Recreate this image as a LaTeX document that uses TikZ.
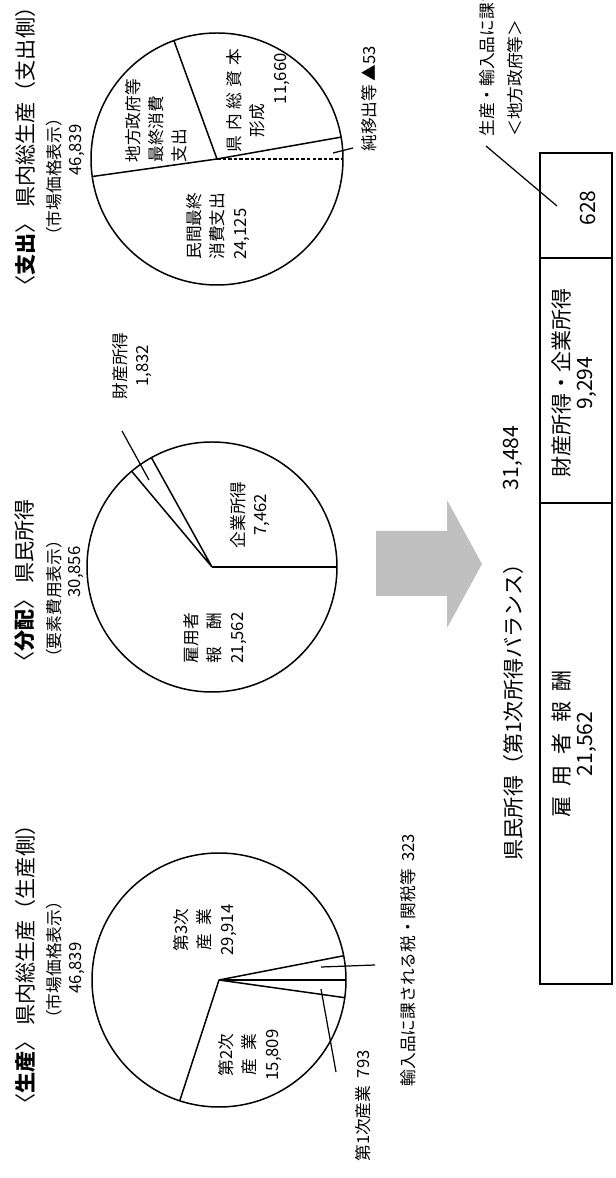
\documentclass[tikz,border=0pt]{standalone}
\usepackage{fontspec}
\setmainfont{Noto Sans CJK JP}
\definecolor{arrowgray}{RGB}{192,192,192}
\tikzset{
  every node/.style = {inner sep=0pt},
  heading/.style = {anchor=west, font=\fontsize{12}{14}\selectfont},
  subhead/.style = {font=\fontsize{9.5}{11}\selectfont},
  pietext/.style = {align=center, font=\fontsize{9.5}{13}\selectfont},
  note/.style = {font=\fontsize{9.5}{16}\selectfont},
  boxtext/.style = {align=center, font=\fontsize{12}{13}\selectfont},
  rim/.style = {line width=0.85pt},
  thickcut/.style = {line width=1.6pt},
  leader/.style = {line width=0.7pt},
}

\begin{document}
\begin{tikzpicture}[x=0.02cm, y=0.02cm]
  \useasboundingbox (0,0) rectangle (616,1178);
  % laid out landscape, then turned a quarter turn
  \begin{scope}[rotate=90, transform shape]
    % production side
    \coordinate (c1) at (198,-219);
    \draw[rim] (c1) circle[radius=127];
    \draw[rim] (c1) -- ++(162:127) (c1) -- ++(-79:127) (c1) -- ++(-98:127);
    \draw[thickcut] (c1) -- ++(-90:127);
    \node[heading] (t1) at (63,-25) {〈\textbf{生産}〉 県内総生産（生産側）};
    \node[subhead] (s1) at (218,-54) {（市場価格表示）};
    \node[subhead] (v1) at (210,-77) {46,839};
    \node[pietext] (tert) at (248,-205) {第3次\\産\hspace{0.5em}業\\29,914};
    \node[pietext] (sec) at (123,-250) {第2次\\産\hspace{0.5em}業\\15,809};
    \node[note] (prim) at (72,-363) {第1次産業\ \ 793};
    \node[note] (tax) at (218,-408) {輸入品に課される税・関税等\ \ 323};
    \coordinate (prim-a) at (189,-321);
    \coordinate (prim-b) at (106,-336);
    \coordinate (tax-a) at (211,-321);
    \coordinate (tax-b) at (213,-375);
    \draw[leader] (prim-a) -- (prim-b) (tax-a) -- (tax-b);

    % distribution
    \coordinate (c2) at (611,-212);
    \draw[rim] (c2) circle[radius=125];
    \draw[rim] (c2) -- ++(40:125) (c2) -- ++(29:125);
    \draw[thickcut] (c2) -- ++(-90:125);
    \node[heading] (t2) at (505,-25) {〈\textbf{分配}〉 県民所得};
    \node[subhead] (s2) at (579,-54) {（要素費用表示）};
    \node[subhead] (v2) at (606,-76) {30,856};
    \node[pietext] (comp) at (540,-215) {雇用者\\報\hspace{1em}酬\\21,562};
    \node[pietext] (ent) at (663,-250) {企業所得\\7,462};
    \node[pietext] (prop) at (812,-132) {財産所得\\1,832};
    \coordinate (prop-a) at (698,-149);
    \coordinate (prop-b) at (747,-122);
    \draw[leader] (prop-a) -- (prop-b);

    % expenditure side
    \coordinate (c3) at (1019,-217);
    \draw[rim] (c3) circle[radius=126];
    \draw[rim] (c3) -- ++(98:126) (c3) -- ++(20:126) (c3) -- ++(-80:126);
    \draw[rim, dash pattern=on 2pt off 1.2pt] (c3) -- ++(-90:126);
    \node[heading] (t3) at (881,-25) {〈\textbf{支出}〉 県内総生産（支出側）};
    \node[subhead] (s3) at (1001,-54) {（市場価格表示）};
    \node[subhead] (v3) at (1028,-77) {46,839};
    \node[pietext, anchor=west, align=left] (pcon) at (918,-218) {民間最終\\消費支出\\24,125};
    \node[pietext, anchor=west, align=left] (gcon) at (1015,-156) {地方政府等\\最終消費\\支出};
    \node[pietext, anchor=west, align=left] (gcf) at (1025,-258)
      {県\hspace{.3em}内\hspace{.3em}総\hspace{.3em}資\hspace{.3em}本\\\hspace*{.9em}形成\\\hspace*{2.9em}11,660};
    \node[note, anchor=west] (nx) at (1026,-369) {純移出等 ▲53};
    \coordinate (nx-a) at (1025,-333);
    \coordinate (nx-b) at (1030,-353);
    \draw[leader] (nx-a) -- (nx-b);

    % arrow and primary income balance
    \fill[arrowgray] (582,-376) -- (647,-376) -- (647,-447) -- (678,-447)
      -- (614,-482) -- (550,-447) -- (582,-447) -- cycle;
    \node[boxtext] (ni) at (471,-513) {県民所得（第1次所得バランス）};
    \node[boxtext] (niv) at (720,-513) {31,484};
    \draw[rim] (194,-540) rectangle (1025,-612)
      (675,-540) -- (675,-612) (920,-540) -- (920,-612);
    \node[boxtext] (comp2) at (434,-574) {雇\enspace 用\enspace 者\enspace 報\enspace 酬\\21,562};
    \node[boxtext] (prop2) at (795,-574) {財産所得・企業所得\\9,294};
    \node[boxtext] (tax2) at (970,-588) {628};
    \node[note, anchor=west, align=left] (tax2l) at (1041,-501) {生産・輸入品に課される税\\＜地方政府等＞};
    \coordinate (tax2-a) at (972,-557);
    \coordinate (tax2-b) at (1032,-486);
    \draw[leader] (tax2-a) -- (tax2-b);
  \end{scope}
\end{tikzpicture}
\end{document}
